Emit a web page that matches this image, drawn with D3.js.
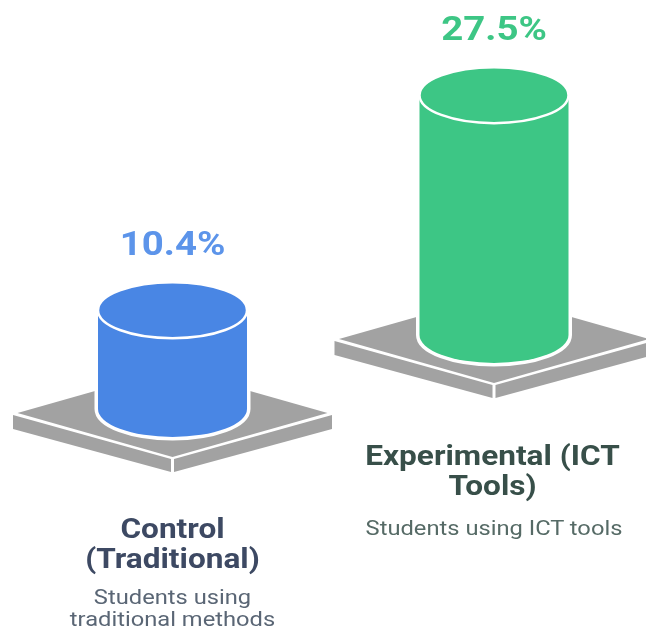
<!DOCTYPE html>
<html><head><meta charset="utf-8">
<script src="https://cdnjs.cloudflare.com/ajax/libs/d3/7.8.5/d3.min.js"></script>
<style>html,body{margin:0;padding:0;background:#fff}svg{display:block}text{font-family:Roboto,sans-serif;text-anchor:middle}</style>
</head><body><svg id="c" width="646" height="631"></svg>
<script>
const categories = ["Control (Traditional)", "Experimental (ICT Tools)"];
const values = [10.4, 27.5];
const valueLabels = ["10.4%", "27.5%"];
const titleLines = [["Control", "(Traditional)"], ["Experimental (ICT", "Tools)"]];
const noteLines = [["Students using", "traditional methods"], ["Students using ICT tools"]];
const colors = ["#4a86e4", "#3ec685"];
const labelColors = ["#5b94ea", "#3ec685"];
const titleColors = ["#3d4a63", "#37504a"];
const noteColors = ["#5a6675", "#566b66"];

const svg = d3.select("#c");
svg.append("defs").append("filter").attr("id","soft").append("feGaussianBlur").attr("stdDeviation",0.5);
const root = svg.append("g").attr("filter","url(#soft)");

const cx = d3.scalePoint().domain(categories).range([172.5, 494]);
const baseY = d3.scaleOrdinal().domain(categories).range([409, 335]);
const h = d3.scaleLinear().domain([0, 30]).range([13, 260.5]);
const titleY = d3.scaleOrdinal().domain(categories).range([538, 465]);
const noteY = d3.scaleOrdinal().domain(categories).range([604, 535]);
const valueY = d3.scaleOrdinal().domain(categories).range([255, 40]);
const rx = 74.5, ry = 28;
const gray = "#a2a2a2";
const line = d3.line();

function label(x, y, size, weight, sx, fill, t) {
  root.append("text").attr("transform", `translate(${x},${y}) scale(${sx},1)`)
    .attr("font-size", size).attr("font-weight", weight).attr("fill", fill).text(t);
}

categories.forEach((cat, i) => {
  const x = cx(cat), b = baseY(cat), top = b - h(values[i]);
  const g = root.append("g");
  const py = b + 48;
  g.append("path").attr("d", line([[x-155,py-44],[x,py-88],[x+155,py-44],[x,py]]) + "Z").attr("fill", gray);
  g.append("path").attr("d", line([[x-159.5,py-42],[x-159.5,py-28],[x-1.5,py+15],[x-1.5,py+2]]) + "Z").attr("fill", gray);
  g.append("path").attr("d", line([[x+1.5,py+2],[x+1.5,py+15],[x+159.5,py-28],[x+159.5,py-42]]) + "Z").attr("fill", gray);
  const body = `M${x-rx},${top}V${b}A${rx},${ry} 0 0 0 ${x+rx},${b}V${top}A${rx},${ry} 0 0 0 ${x-rx},${top}Z`;
  g.append("path").attr("d", body).attr("fill", colors[i]).attr("stroke", "#fff").attr("stroke-width", 7).attr("paint-order","stroke");
  g.append("ellipse").attr("cx", x).attr("cy", top).attr("rx", rx).attr("ry", ry)
    .attr("fill", colors[i]).attr("stroke", "#fff").attr("stroke-width", 2.5);
  label(x, valueY(cat), 33, 700, 1.165, labelColors[i], valueLabels[i]);
  titleLines[i].forEach((t, k) => label(x - i*1.5, titleY(cat) + k*30, 27, 700, 1.17, titleColors[i], t));
  noteLines[i].forEach((t, k) => label(x, noteY(cat) + k*22, 20.5, 400, 1.157, noteColors[i], t));
});
</script></body></html>
